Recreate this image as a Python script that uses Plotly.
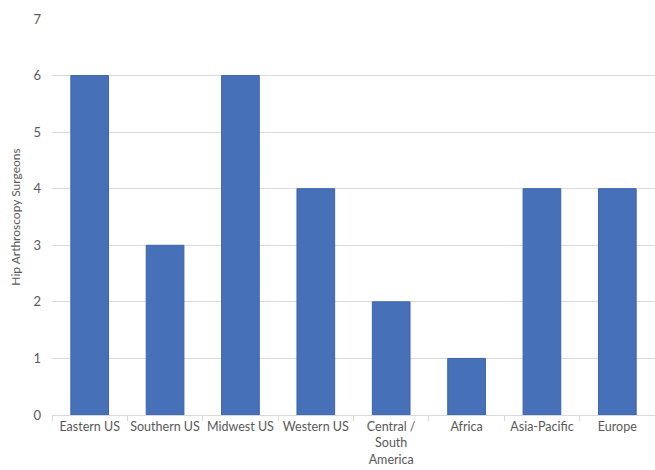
import plotly.graph_objects as go

regions = ["Eastern US", "Southern US", "Midwest US", "Western US",
           "Central /<br>South<br>America", "Africa", "Asia-Pacific", "Europe"]
surgeons = [6, 3, 6, 4, 2, 1, 4, 4]

fig = go.Figure(
    go.Bar(
        x=regions,
        y=surgeons,
        width=0.5,
        marker=dict(color="#4670b8", line=dict(color="#3d64ac", width=1)),
    )
)

fig.update_layout(
    width=655,
    height=470,
    margin=dict(l=52, r=0, t=19, b=55),
    paper_bgcolor="white",
    plot_bgcolor="white",
    font=dict(family="Lato, Open Sans, sans-serif", size=13, color="#595959"),
    showlegend=False,
    bargap=0.5,
)

fig.update_yaxes(
    range=[0, 7],
    dtick=1,
    showgrid=True,
    gridcolor="#d9d9d9",
    gridwidth=1,
    zeroline=False,
    showline=False,
    ticks="",
    ticklabelstandoff=10,
    automargin=False,
    title=dict(text="Hip Arthroscopy Surgeons", font=dict(size=12, color="#595959"), standoff=10),
)

fig.update_xaxes(
    showline=True,
    linecolor="#d9d9d9",
    linewidth=1,
    ticks="outside",
    tickson="boundaries",
    ticklen=5,
    tickcolor="#d9d9d9",
    showgrid=False,
    tickangle=0,
    ticklabelstandoff=0,
    tickfont=dict(size=12.5),
    automargin=False,
)

fig.write_html("out.html")
